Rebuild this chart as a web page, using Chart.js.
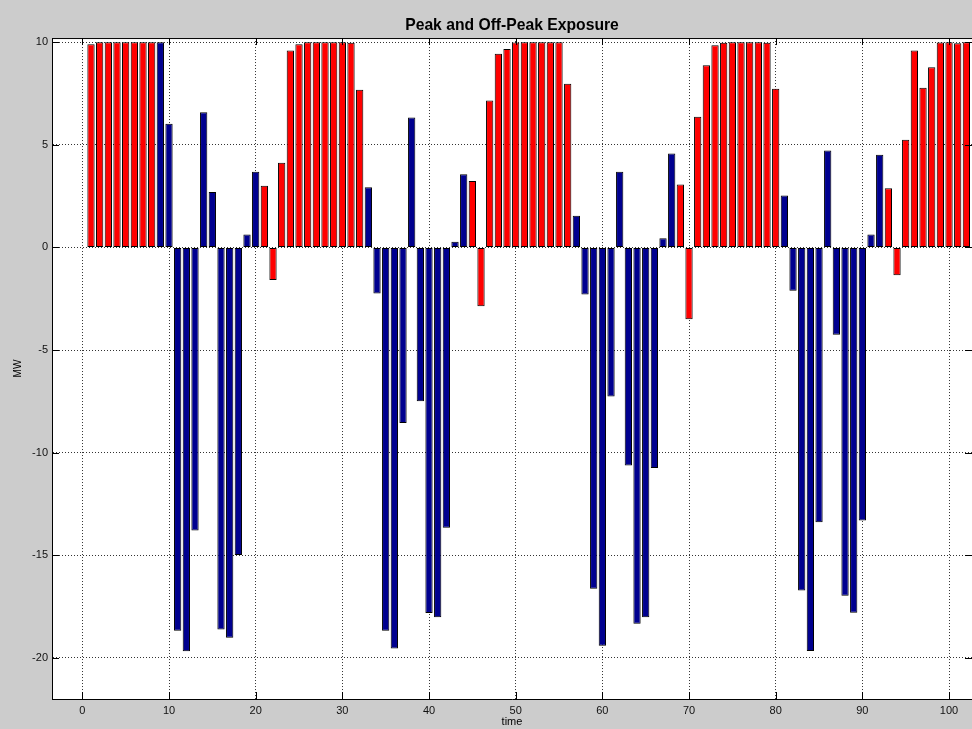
<!DOCTYPE html>
<html>
<head>
<meta charset="utf-8">
<title>Peak and Off-Peak Exposure</title>
<script src="https://cdn.jsdelivr.net/npm/chart.js@4.4.1/dist/chart.umd.min.js"></script>
<style>
  html, body { margin: 0; padding: 0; background: #cccccc; }
  canvas { display: block; }
</style>
</head>
<body>
<canvas id="chart" width="972" height="729"></canvas>
<script>
// Hourly exposure (MW), split into peak and off-peak blocks
const peakTimes = [1, 2, 3, 4, 5, 6, 7, 8,
  21, 22, 23, 24, 25, 26, 27, 28, 29, 30, 31, 32,
  45, 46, 47, 48, 49, 50, 51, 52, 53, 54, 55, 56,
  69, 70, 71, 72, 73, 74, 75, 76, 77, 78, 79, 80,
  93, 94, 95, 96, 97, 98, 99, 100, 101, 102];
const peakMW = [9.9, 10, 10, 10, 10, 10, 10, 10,
  3.0, -1.59, 4.13, 9.59, 9.9, 10, 10, 10, 10, 10, 9.97, 7.68,
  3.24, -2.87, 7.16, 9.43, 9.67, 9.98, 10, 10, 10, 10, 10, 7.97,
  3.06, -3.5, 6.37, 8.88, 9.85, 9.97, 10, 10, 10, 10, 9.97, 7.73,
  2.88, -1.36, 5.25, 9.59, 7.78, 8.78, 9.98, 10, 9.95, 10];

const offPeakTimes = [9, 10, 11, 12, 13, 14, 15, 16, 17, 18, 19, 20,
  33, 34, 35, 36, 37, 38, 39, 40, 41, 42, 43, 44,
  57, 58, 59, 60, 61, 62, 63, 64, 65, 66, 67, 68,
  81, 82, 83, 84, 85, 86, 87, 88, 89, 90, 91, 92];
const offPeakMW = [10, 6.03, -18.67, -19.67, -13.79, 6.59, 2.70, -18.62, -19.01, -14.99, 0.63, 3.68,
  2.93, -2.24, -18.67, -19.54, -8.56, 6.33, -7.49, -17.81, -18.02, -13.66, 0.27, 3.56,
  1.54, -2.30, -16.63, -19.40, -7.26, 3.68, -10.62, -18.33, -18.02, -10.75, 0.45, 4.58,
  2.53, -2.11, -16.71, -19.66, -13.39, 4.72, -4.26, -16.97, -17.80, -13.31, 0.63, 4.52];

const xTickValues = [0, 10, 20, 30, 40, 50, 60, 70, 80, 90, 100];
const yTickValues = [-20, -15, -10, -5, 0, 5, 10];

const FONT = "'Liberation Sans', Arial, sans-serif";

// Figure background, white axes box, and inward tick marks on all four sides
const axesFrame = {
  id: 'axesFrame',
  beforeDraw(chart) {
    const { ctx, chartArea: a, width, height } = chart;
    ctx.save();
    ctx.fillStyle = '#cccccc';
    ctx.fillRect(0, 0, width, height);
    ctx.fillStyle = '#ffffff';
    ctx.fillRect(a.left, a.top, a.right - a.left, a.bottom - a.top);
    ctx.restore();
  },
  afterDatasetsDraw(chart) {
    const { ctx, chartArea: a, scales } = chart;
    const len = 7;
    ctx.save();
    ctx.strokeStyle = '#000000';
    ctx.lineWidth = 1;
    ctx.beginPath();
    ctx.moveTo(a.left, a.top + 0.5);
    ctx.lineTo(a.right, a.top + 0.5);
    for (const v of xTickValues) {
      const px = Math.round(scales.x.getPixelForValue(v)) + 0.5;
      ctx.moveTo(px, a.bottom);
      ctx.lineTo(px, a.bottom - len);
      ctx.moveTo(px, a.top);
      ctx.lineTo(px, a.top + len);
    }
    for (const v of yTickValues) {
      const py = Math.round(scales.y.getPixelForValue(v)) + 0.5;
      ctx.moveTo(a.left, py);
      ctx.lineTo(a.left + len, py);
      ctx.moveTo(a.right, py);
      ctx.lineTo(a.right - len, py);
    }
    ctx.stroke();
    ctx.restore();
  }
};

const toPoints = (xs, ys) => xs.map((x, i) => ({ x: x, y: ys[i] }));

const barStyle = {
  borderColor: '#000000',
  borderWidth: 1,
  borderSkipped: false,
  grouped: false,
  categoryPercentage: 1.0,
  barPercentage: 0.84
};

new Chart(document.getElementById('chart'), {
  type: 'bar',
  data: {
    datasets: [
      Object.assign({
        label: 'Peak',
        data: toPoints(peakTimes, peakMW),
        backgroundColor: '#ff0000'
      }, barStyle),
      Object.assign({
        label: 'Off-Peak',
        data: toPoints(offPeakTimes, offPeakMW),
        backgroundColor: '#00008f'
      }, barStyle)
    ]
  },
  options: {
    responsive: false,
    animation: false,
    devicePixelRatio: 1,
    layout: { padding: 0 },
    plugins: {
      legend: { display: false },
      tooltip: { enabled: false },
      title: {
        display: true,
        text: 'Peak and Off-Peak Exposure',
        fullSize: false,
        color: '#000000',
        font: { family: FONT, size: 15.7, weight: 'bold' },
        padding: { top: 16, bottom: 3.2 }
      }
    },
    scales: {
      x: {
        type: 'linear',
        min: -3.5,
        max: 102.65,
        offset: false,
        afterBuildTicks: (scale) => { scale.ticks = xTickValues.map(v => ({ value: v })); },
        afterFit: (scale) => { scale.height = 30; },
        ticks: {
          color: '#111111',
          font: { family: FONT, size: 11 },
          padding: 5,
          maxRotation: 0,
          autoSkip: false
        },
        grid: {
          offset: false,
          color: '#333333',
          lineWidth: 1,
          drawTicks: false
        },
        border: { display: true, color: '#000000', width: 1, dash: [1, 2] },
        title: {
          display: true,
          text: 'time',
          color: '#000000',
          font: { family: FONT, size: 11 },
          padding: { top: 0, bottom: 0 }
        }
      },
      y: {
        type: 'linear',
        min: -22,
        max: 10.2,
        beginAtZero: false,
        afterBuildTicks: (scale) => { scale.ticks = yTickValues.map(v => ({ value: v })); },
        afterFit: (scale) => { scale.width = 52; },
        ticks: {
          color: '#111111',
          font: { family: FONT, size: 11 },
          padding: 4,
          autoSkip: false
        },
        grid: {
          color: '#333333',
          lineWidth: 1,
          drawTicks: false
        },
        border: { display: true, color: '#000000', width: 1, dash: [1, 2] },
        title: {
          display: true,
          text: 'MW',
          color: '#000000',
          font: { family: FONT, size: 10 },
          padding: { top: 12, bottom: 0 }
        }
      }
    }
  },
  plugins: [axesFrame]
});
</script>
</body>
</html>
